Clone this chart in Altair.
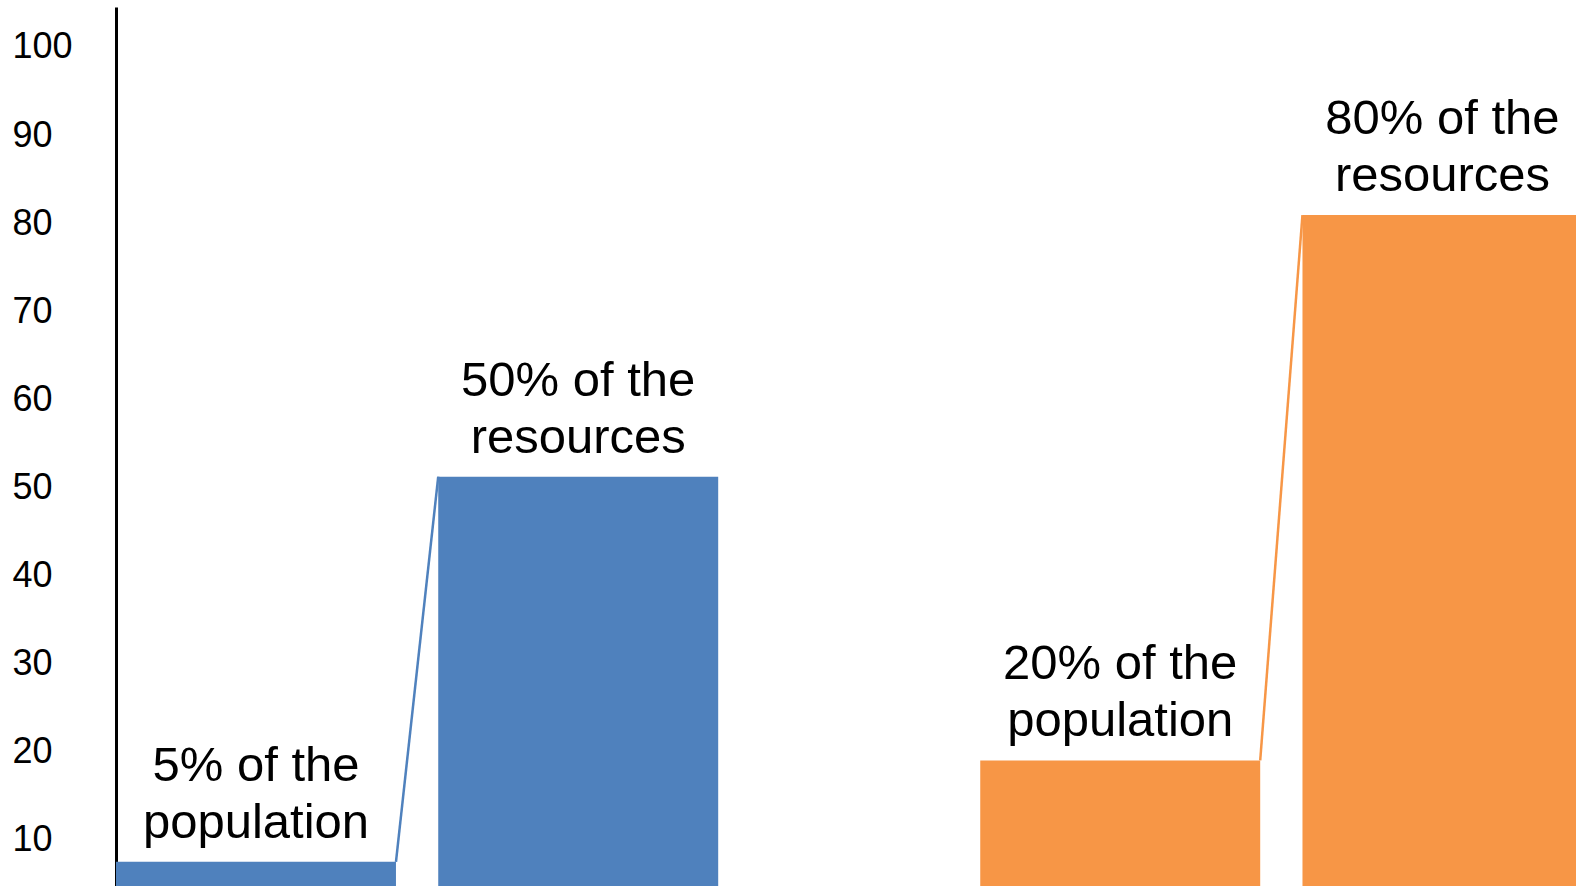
import altair as alt
import pandas as pd

# ---- data ----
labels = ["5% of the\npopulation", "50% of the\nresources",
          "20% of the\npopulation", "80% of the\nresources"]
values = [7.3, 51.0, 18.8, 80.7]
groups = ["Group 1", "Group 1", "Group 2", "Group 2"]
palette = ["#4F81BD", "#F79646"]
y_ticks = [10, 20, 30, 40, 50, 60, 70, 80, 90, 100]

# ---- layout (in bar-width units) ----
BAR_W = 1.0
PAIR_GAP = 0.151
GROUP_GAP = 0.936
X_MAX = 5.215
Y_MIN, Y_MAX = 4.55, 104.31
LINE_H = 57

starts = []
pos = 0.0
for i, g in enumerate(groups):
    if i > 0:
        pos += PAIR_GAP if g == groups[i - 1] else GROUP_GAP
    starts.append(pos)
    pos += BAR_W

bars = pd.DataFrame({
    "x0": starts,
    "x1": [s + BAR_W for s in starts],
    "xc": [s + BAR_W / 2 for s in starts],
    "value": values,
    "label": labels,
    "group": groups,
})

rule_rows = []
for g in dict.fromkeys(groups):
    sub = bars[bars["group"] == g].reset_index(drop=True)
    rule_rows.append({"group": g, "xa": sub.loc[0, "x1"], "xb": sub.loc[1, "x0"],
                      "ya": sub.loc[0, "value"], "yb": sub.loc[1, "value"]})
rules = pd.DataFrame(rule_rows)

xs = alt.Scale(domain=[0, X_MAX], nice=False, zero=False)
ys = alt.Scale(domain=[Y_MIN, Y_MAX], nice=False, zero=False)
cs = alt.Scale(domain=list(dict.fromkeys(groups)), range=palette)

y_axis = alt.Axis(values=y_ticks, labelFontSize=36, labelFont="Liberation Sans",
                  labelColor="black", labelAlign="left", labelBaseline="middle",
                  labelPadding=104, labelOffset=2, ticks=False, tickSize=0, grid=False,
                  domainColor="black", domainWidth=3, title=None, labelOverlap=False)

bar_layer = alt.Chart(bars).mark_bar(clip=True).encode(
    x=alt.X("x0:Q", scale=xs, axis=None),
    x2="x1:Q",
    y=alt.Y("value:Q", scale=ys, axis=y_axis),
    y2=alt.datum(0),
    color=alt.Color("group:N", scale=cs, legend=None),
)

rule_layer = alt.Chart(rules).mark_rule(strokeWidth=2.5, clip=True).encode(
    x=alt.X("xa:Q", scale=xs),
    x2="xb:Q",
    y=alt.Y("ya:Q", scale=ys),
    y2="yb:Q",
    color=alt.Color("group:N", scale=cs, legend=None),
)

text_layer = alt.Chart(bars).mark_text(
    font="Liberation Sans", fontSize=49, lineBreak="\n", lineHeight=LINE_H,
    baseline="alphabetic", align="center", dy=-24 - LINE_H, color="black",
).encode(
    x=alt.X("xc:Q", scale=xs),
    y=alt.Y("value:Q", scale=ys),
    text="label:N",
)

chart = alt.layer(bar_layer, rule_layer, text_layer).properties(
    width=1460, height=879,
    autosize=alt.AutoSizeParams(type="none"),
    padding={"left": 116, "top": 7, "right": 0, "bottom": 0},
    background="white",
).configure_view(stroke=None)

chart.save("out.html", embed_options={"renderer": "svg", "actions": False})
